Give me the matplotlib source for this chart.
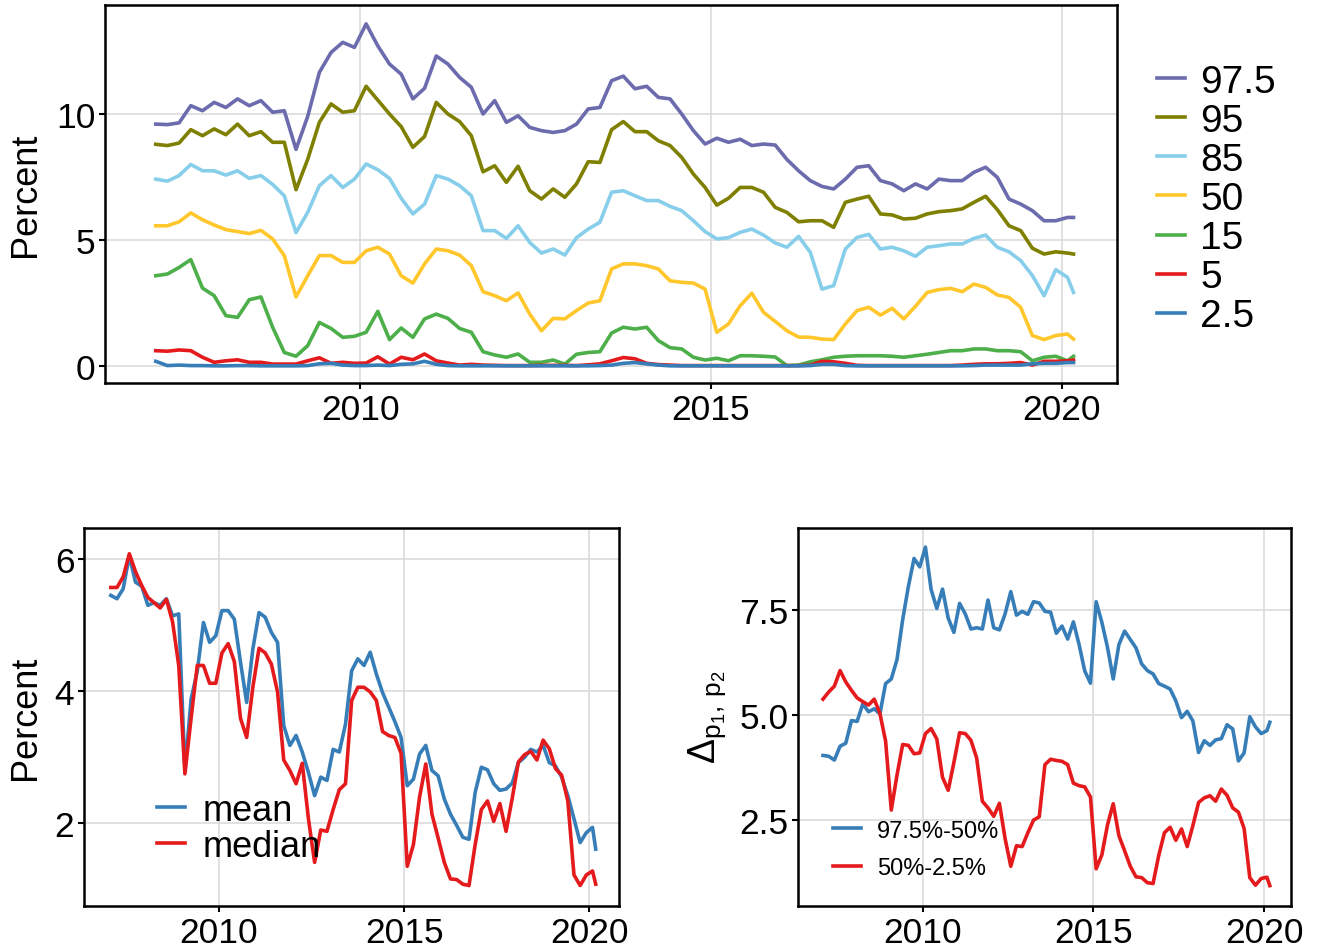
import numpy as np
import matplotlib
matplotlib.use('Agg')
import matplotlib.pyplot as plt

plt.rcParams['font.family'] = ['Liberation Sans', 'DejaVu Sans']
plt.rcParams['mathtext.default'] = 'regular'

# two-monthly dates, Feb 2007 .. early 2020
dates = np.append(np.arange(2007 + 1 / 12, 2020.1, 1 / 6), 2020.17)

p975 = [9.6, 9.58, 9.65, 10.33, 10.13, 10.46, 10.26, 10.6, 10.33, 10.53,
        10.07, 10.13, 8.6, 9.9, 11.65, 12.44, 12.84, 12.64, 13.57, 12.7,
        11.98, 11.58, 10.6, 11.02, 12.3, 11.98, 11.45, 11.06, 10.0, 10.53,
        9.67, 9.93, 9.47, 9.34, 9.27, 9.34, 9.6, 10.2, 10.26, 11.32,
        11.5, 11.0, 11.1, 10.66, 10.6, 10.0, 9.34, 8.81, 9.04, 8.88,
        9.0, 8.75, 8.81, 8.77, 8.2, 7.75, 7.36, 7.13, 7.03, 7.42,
        7.89, 7.95, 7.36, 7.23, 6.96, 7.23, 7.03, 7.42, 7.36, 7.36,
        7.69, 7.89, 7.49, 6.63, 6.43, 6.17, 5.77, 5.77, 5.9, 5.9]
p95 = [8.8, 8.75, 8.85, 9.38, 9.14, 9.41, 9.18, 9.6, 9.14, 9.3,
       8.88, 8.88, 7.0, 8.2, 9.67, 10.4, 10.07, 10.13, 11.1, 10.55,
       10.0, 9.5, 8.68, 9.11, 10.46, 10.0, 9.7, 9.14, 7.71, 7.95,
       7.29, 7.93, 6.96, 6.63, 7.03, 6.7, 7.23, 8.11, 8.08, 9.38,
       9.7, 9.3, 9.3, 8.94, 8.75, 8.28, 7.62, 7.09, 6.39, 6.66,
       7.09, 7.09, 6.9, 6.3, 6.1, 5.73, 5.77, 5.77, 5.51, 6.5,
       6.63, 6.74, 6.04, 6.0, 5.84, 5.87, 6.04, 6.13, 6.17, 6.24,
       6.5, 6.74, 6.21, 5.57, 5.38, 4.68, 4.45, 4.54, 4.49, 4.45]
p85 = [7.42, 7.34, 7.56, 8.0, 7.75, 7.75, 7.58, 7.75, 7.45, 7.56,
       7.21, 6.76, 5.3, 6.1, 7.16, 7.56, 7.09, 7.42, 8.02, 7.79,
       7.45, 6.66, 6.04, 6.43, 7.56, 7.42, 7.16, 6.76, 5.38, 5.38,
       5.07, 5.57, 4.91, 4.49, 4.65, 4.41, 5.1, 5.44, 5.71, 6.9,
       6.96, 6.76, 6.57, 6.57, 6.34, 6.17, 5.77, 5.34, 5.05, 5.1,
       5.31, 5.44, 5.2, 4.89, 4.72, 5.15, 4.52, 3.06, 3.2, 4.65,
       5.11, 5.23, 4.65, 4.72, 4.58, 4.36, 4.72, 4.78, 4.85, 4.85,
       5.07, 5.2, 4.72, 4.54, 4.19, 3.6, 2.8, 3.83, 3.53, 2.93]
p50 = [5.57, 5.57, 5.73, 6.08, 5.81, 5.6, 5.42, 5.34, 5.26, 5.39,
       5.05, 4.39, 2.75, 3.59, 4.39, 4.39, 4.12, 4.12, 4.58, 4.72,
       4.45, 3.59, 3.3, 4.06, 4.65, 4.58, 4.41, 3.99, 2.96, 2.8,
       2.6, 2.91, 2.07, 1.41, 1.9, 1.88, 2.21, 2.51, 2.6, 3.86,
       4.06, 4.06, 3.99, 3.86, 3.39, 3.33, 3.3, 3.06, 1.35, 1.68,
       2.4, 2.9, 2.14, 1.78, 1.41, 1.16, 1.15, 1.08, 1.06, 1.68,
       2.21, 2.34, 2.03, 2.3, 1.88, 2.38, 2.93, 3.04, 3.09, 2.96,
       3.26, 3.13, 2.83, 2.73, 2.34, 1.22, 1.06, 1.22, 1.28, 1.08]
p15 = [3.59, 3.66, 3.92, 4.23, 3.1, 2.8, 2.01, 1.94, 2.64, 2.75,
       1.55, 0.55, 0.4, 0.82, 1.74, 1.5, 1.15, 1.19, 1.35, 2.18,
       1.06, 1.52, 1.15, 1.88, 2.07, 1.9, 1.5, 1.35, 0.58, 0.45,
       0.36, 0.49, 0.16, 0.16, 0.25, 0.09, 0.48, 0.55, 0.58, 1.32,
       1.55, 1.48, 1.55, 1.02, 0.74, 0.69, 0.36, 0.25, 0.32, 0.22,
       0.42, 0.42, 0.4, 0.37, 0.03, 0.05, 0.18, 0.26, 0.36, 0.4,
       0.42, 0.42, 0.42, 0.4, 0.36, 0.42, 0.48, 0.55, 0.62, 0.62,
       0.69, 0.69, 0.62, 0.62, 0.58, 0.22, 0.36, 0.4, 0.22, 0.4]
p5 = [0.62, 0.6, 0.65, 0.62, 0.36, 0.16, 0.22, 0.26, 0.16, 0.16,
      0.09, 0.09, 0.09, 0.22, 0.34, 0.12, 0.16, 0.12, 0.13, 0.38,
      0.09, 0.36, 0.26, 0.49, 0.22, 0.13, 0.05, 0.08, 0.05, 0.04,
      0.03, 0.03, 0.03, 0.04, 0.04, 0.04, 0.03, 0.06, 0.1, 0.22,
      0.35, 0.3, 0.12, 0.07, 0.05, 0.03, 0.03, 0.03, 0.03, 0.03,
      0.03, 0.03, 0.03, 0.03, 0.03, 0.03, 0.05, 0.2, 0.18, 0.12,
      0.04, 0.03, 0.03, 0.03, 0.03, 0.03, 0.03, 0.03, 0.03, 0.05,
      0.08, 0.1, 0.1, 0.12, 0.15, 0.05, 0.2, 0.2, 0.22, 0.25]
p25 = [0.2, 0.03, 0.05, 0.03, 0.03, 0.02, 0.02, 0.03, 0.03, 0.02,
       0.02, 0.02, 0.02, 0.03, 0.1, 0.12, 0.05, 0.03, 0.03, 0.05,
       0.03, 0.08, 0.1, 0.2, 0.08, 0.03, 0.02, 0.02, 0.02, 0.02,
       0.02, 0.02, 0.02, 0.02, 0.02, 0.02, 0.02, 0.02, 0.03, 0.05,
       0.12, 0.15, 0.1, 0.05, 0.02, 0.02, 0.02, 0.02, 0.02, 0.02,
       0.02, 0.02, 0.02, 0.02, 0.02, 0.02, 0.03, 0.08, 0.08, 0.03,
       0.02, 0.02, 0.02, 0.02, 0.02, 0.02, 0.02, 0.02, 0.02, 0.02,
       0.03, 0.05, 0.05, 0.05, 0.05, 0.1, 0.12, 0.12, 0.15, 0.15]
mean = [5.45, 5.4, 5.55, 6.05, 5.65, 5.59, 5.3, 5.34, 5.3, 5.4,
        5.14, 5.17, 2.8, 3.88, 4.3, 5.04, 4.74, 4.84, 5.22, 5.22,
        5.09, 4.44, 3.83, 4.64, 5.19, 5.12, 4.89, 4.74, 3.48, 3.18,
        3.33, 3.08, 2.77, 2.42, 2.7, 2.65, 3.12, 3.08, 3.5, 4.31,
        4.49, 4.39, 4.59, 4.26, 3.98, 3.76, 3.54, 3.3, 2.57, 2.67,
        3.05, 3.18, 2.8, 2.72, 2.37, 2.14, 1.97, 1.79, 1.76, 2.47,
        2.85, 2.81, 2.6, 2.5, 2.52, 2.61, 2.92, 3.0, 3.12, 3.08,
        3.18, 2.92, 2.87, 2.7, 2.42, 2.07, 1.71, 1.86, 1.94, 1.61]

pct_labels = ['97.5', '95', '85', '50', '15', '5', '2.5']
pct_series = [p975, p95, p85, p50, p15, p5, p25]
pct_colors = ['#6B6BAE', '#7F7F00', '#87CEEB', '#FFC72C',
              '#4DAF4A', '#E41A1C', '#377EB8']

W, H = 1317, 953
lw = 2.6


def px_axes(x0, y0, x1, y1):
    return fig.add_axes([x0 / W, 1 - y1 / H, (x1 - x0) / W, (y1 - y0) / H])


def style(ax, ylim, yticks, ylabels):
    ax.set_xlim(2006.36, 2020.79)
    ax.set_ylim(*ylim)
    ax.set_xticks([2010, 2015, 2020])
    ax.set_yticks(yticks)
    ax.set_yticklabels(ylabels)
    ax.grid(True, color='#d9d9d9', lw=1.1)
    ax.set_axisbelow(True)
    for s in ax.spines.values():
        s.set_linewidth(1.8)
        s.set_color('black')
    ax.tick_params(direction='out', length=4.5, width=1.5, labelsize=25.5,
                   pad=2.5, colors='black')


fig = plt.figure(figsize=(W / 100, H / 100), dpi=100)

# top: percentiles
ax1 = px_axes(105, 6, 1117, 384)
handles = []
for lab, vals, col in zip(pct_labels, pct_series, pct_colors):
    h, = ax1.plot(dates, vals, color=col, lw=lw, label=lab)
    handles.append(h)
style(ax1, (-0.66, 14.32), [0, 5, 10], ['0', '5', '10'])
fig.text(26 / W, 1 - 195 / H, 'Percent', rotation=90, ha='center',
         va='center', fontsize=26)
fig.legend(handles, pct_labels, loc='center left',
           bbox_to_anchor=(1157 / W, 1 - 200 / H), frameon=False,
           fontsize=28, handlelength=0.72, handletextpad=0.39,
           labelspacing=0.08, borderpad=0, borderaxespad=0)

# bottom left: mean vs median
ax2 = px_axes(84, 529, 618.7, 907)
ax2.plot(dates, mean, color='#377EB8', lw=lw, label='mean')
ax2.plot(dates, p50, color='#E41A1C', lw=lw, label='median')
style(ax2, (0.75, 6.47), [2, 4, 6], ['2', '4', '6'])
fig.text(26 / W, 1 - 718 / H, 'Percent', rotation=90, ha='center',
         va='center', fontsize=26)
fig.legend(*ax2.get_legend_handles_labels(), loc='center left',
           bbox_to_anchor=(156.7 / W, 1 - 829.3 / H), frameon=False,
           fontsize=26, handlelength=0.78, handletextpad=0.48,
           labelspacing=0.02, borderpad=0, borderaxespad=0)

# bottom right: spreads
upper = np.array(p975) - np.array(p50)
lower = np.array(p50) - np.array(p25)
ax3 = px_axes(798.3, 529, 1291, 907)
ax3.plot(dates, upper, color='#377EB8', lw=lw, label='97.5%-50%')
ax3.plot(dates, lower, color='#E41A1C', lw=lw, label='50%-2.5%')
style(ax3, (0.445, 9.445), [2.5, 5.0, 7.5], ['2.5', '5.0', '7.5'])
fig.text(707 / W, 1 - 717 / H, r'$\Delta_{p_1,\,p_2}$', rotation=90,
         ha='center', va='center', fontsize=27)
fig.legend(*ax3.get_legend_handles_labels(), loc='center left',
           bbox_to_anchor=(832.7 / W, 1 - 850.3 / H), frameon=False,
           fontsize=17, handlelength=1.2, handletextpad=0.66,
           labelspacing=0.64, borderpad=0, borderaxespad=0)

fig.savefig('out.png', dpi=100)
